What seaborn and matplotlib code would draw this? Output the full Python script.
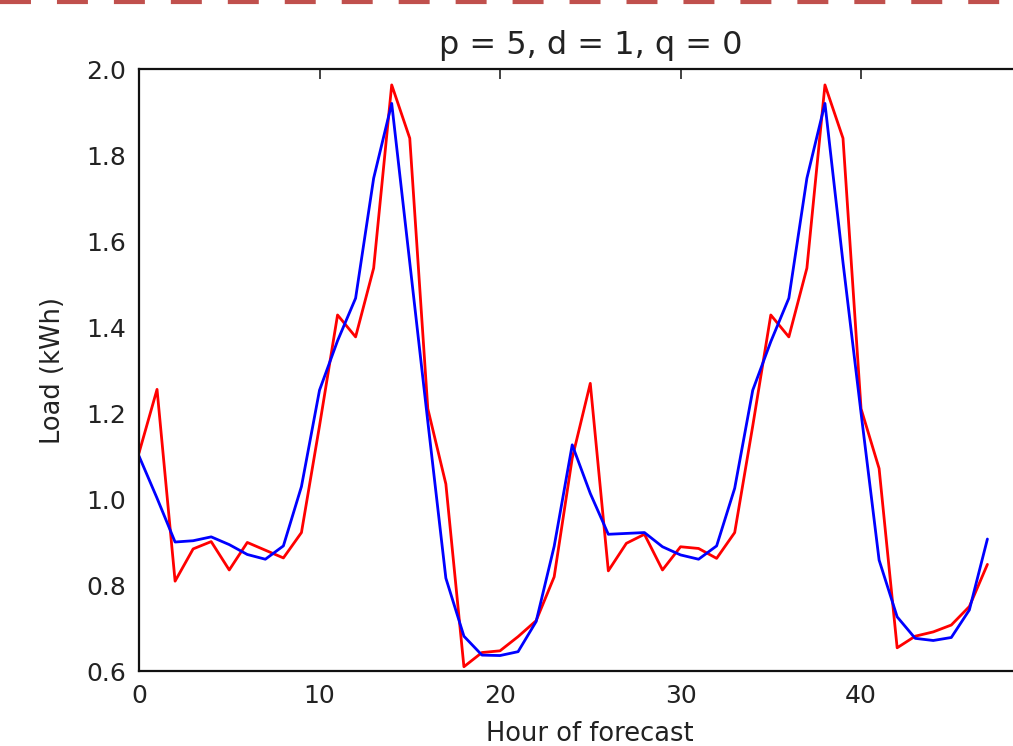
import numpy as np
import pandas as pd
import matplotlib
matplotlib.use("Agg")
import matplotlib.pyplot as plt
import seaborn as sns
from matplotlib.lines import Line2D

# hours of the forecast window
hours = list(range(48))

# observed load (red)
actual = [1.107, 1.255, 0.809, 0.884, 0.901, 0.835, 0.899, 0.881, 0.863, 0.922,
          1.17, 1.428, 1.377, 1.537, 1.963, 1.839, 1.21, 1.035, 0.610, 0.643,
          0.647, 0.680, 0.717, 0.819, 1.095, 1.269, 0.833, 0.897, 0.918, 0.835,
          0.889, 0.885, 0.862, 0.922, 1.17, 1.428, 1.377, 1.537, 1.963, 1.839,
          1.21, 1.071, 0.654, 0.681, 0.691, 0.707, 0.750, 0.848]

# ARIMA forecast (blue)
forecast = [1.10, 1.002, 0.900, 0.903, 0.912, 0.894, 0.871, 0.860, 0.891, 1.029,
            1.253, 1.368, 1.467, 1.746, 1.920, 1.55, 1.18, 0.816, 0.681, 0.637,
            0.636, 0.645, 0.715, 0.89, 1.126, 1.013, 0.918, 0.920, 0.922, 0.889,
            0.870, 0.860, 0.891, 1.025, 1.253, 1.366, 1.467, 1.746, 1.920, 1.55,
            1.20, 0.858, 0.726, 0.676, 0.671, 0.678, 0.742, 0.907]

x_ticks = [0, 10, 20, 30, 40]
y_ticks = [0.6, 0.8, 1.0, 1.2, 1.4, 1.6, 1.8, 2.0]

df = pd.DataFrame({"hour": hours, "actual": actual, "forecast": forecast})

sns.set_style("white")
plt.rcParams["font.family"] = ["DejaVu Sans"]

fig = plt.figure(figsize=(10.13, 7.46), dpi=100)
# axes run past the right edge, as in the cropped original
ax = fig.add_axes([0.1372, 0.1005, 0.891, 0.807])

sns.lineplot(data=df, x="hour", y="actual", color="#ff0000", linewidth=2.0, ax=ax)
sns.lineplot(data=df, x="hour", y="forecast", color="#0000ff", linewidth=2.0, ax=ax)

ax.set_xlim(0, 50)
ax.set_ylim(0.6, 2.0)
ax.set_xticks(x_ticks)
ax.set_yticks(y_ticks)
ax.set_yticklabels([f"{v:.1f}" for v in y_ticks])
ax.tick_params(direction="in", length=7, width=1.2, colors="#222222",
               labelsize=18, top=True, right=True, pad=9)
for s in ax.spines.values():
    s.set_linewidth(1.6)
    s.set_color("#111111")

ax.set_title("p = 5, d = 1, q = 0", fontsize=23, color="#222222", pad=11)
ax.set_xlabel("Hour of forecast", fontsize=18.5, color="#222222", labelpad=10)
ax.set_ylabel("Load (kWh)", fontsize=18.5, color="#222222", labelpad=15)

# dashed border across the top of the image
fig.add_artist(Line2D([0, 1], [1 - 2 / 746, 1 - 2 / 746], transform=fig.transFigure,
                      color="#c0504d", linewidth=3.0,
                      dashes=(31 / 1.39 / 3.0, 26 / 1.39 / 3.0), dash_capstyle="butt"))

fig.savefig("out.png", dpi=100)
